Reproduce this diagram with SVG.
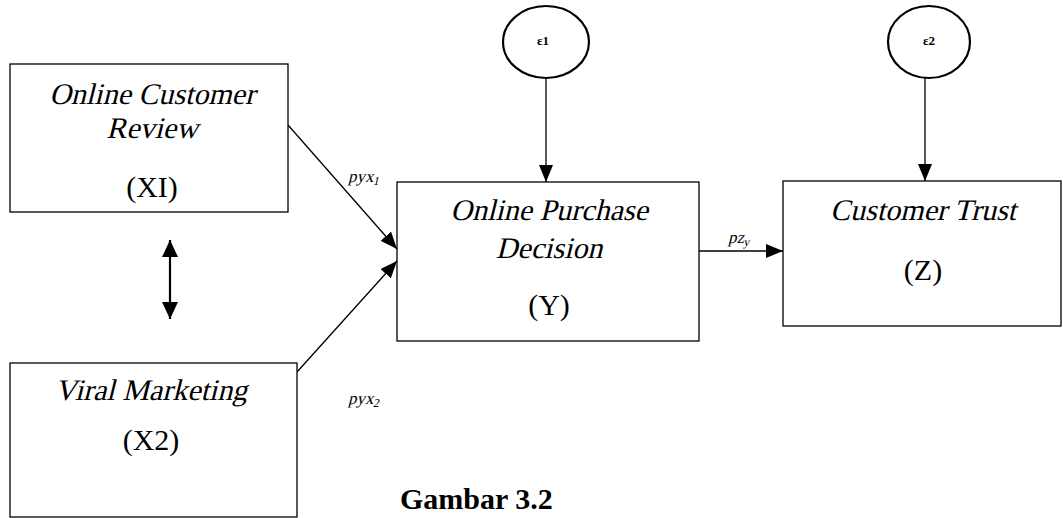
<svg xmlns="http://www.w3.org/2000/svg" width="1063" height="518" viewBox="0 0 1063 518">
<defs>
<style>
.box{fill:#fff;stroke:#000;stroke-width:1.3}
.ell{fill:#fff;stroke:#000;stroke-width:2.2}
.t{font-family:"Liberation Serif","Times New Roman",serif;font-size:30px;fill:#000;text-anchor:middle}
.e{font-family:"Liberation Serif","Times New Roman",serif;font-size:13px;font-weight:bold;fill:#000;text-anchor:middle}
.lbl{font-family:"Liberation Serif","Times New Roman",serif;font-size:17px;fill:#000}
.sub{font-size:12px}
.ln{stroke:#000;stroke-width:1.3;fill:none}
.cap{font-family:"Liberation Serif","Times New Roman",serif;font-size:30px;font-weight:bold;fill:#000}
</style>
<marker id="ah" markerUnits="userSpaceOnUse" markerWidth="18" markerHeight="14" refX="17" refY="7" orient="auto">
<path d="M0,0 L17,7 L0,14 Z" fill="#000"/>
</marker>
<marker id="ah2" markerUnits="userSpaceOnUse" markerWidth="18" markerHeight="16" refX="17" refY="8" orient="auto-start-reverse">
<path d="M0,0 L17,8 L0,16 Z" fill="#000"/>
</marker>
</defs>
<rect width="1063" height="518" fill="#fff"/>
<g id="connectors">
<line class="ln" x1="288" y1="125" x2="397" y2="249" marker-end="url(#ah)"/>
<line class="ln" x1="297" y1="372" x2="397" y2="261" marker-end="url(#ah)"/>
<line class="ln" x1="546" y1="78" x2="546" y2="182" marker-end="url(#ah)"/>
<line class="ln" x1="925" y1="78" x2="925" y2="181" marker-end="url(#ah)"/>
<line class="ln" x1="699" y1="251" x2="783" y2="251" marker-end="url(#ah)"/>
<line x1="170" y1="240" x2="170" y2="319" stroke="#000" stroke-width="2.2" marker-start="url(#ah2)" marker-end="url(#ah2)"/>
<g transform="translate(348,182) skewX(-14)"><text class="lbl">pyx<tspan class="sub" dy="3">1</tspan></text></g>
<g transform="translate(348,404) skewX(-14)"><text class="lbl">pyx<tspan class="sub" dy="3">2</tspan></text></g>
<g transform="translate(728,243) skewX(-14)"><text class="lbl">pz<tspan class="sub" dy="3">y</tspan></text></g>
</g>
<g id="node-xi">
<rect class="box" x="10" y="64" width="278" height="148"/>
<g transform="translate(152,104) skewX(-14)"><text class="t">Online Customer</text></g>
<g transform="translate(152,138) skewX(-14)"><text class="t">Review</text></g>
<text class="t" x="152" y="197">(XI)</text>
</g>
<g id="node-x2">
<rect class="box" x="10" y="363" width="287" height="154"/>
<g transform="translate(151,400) skewX(-14)"><text class="t">Viral Marketing</text></g>
<text class="t" x="151" y="450">(X2)</text>
</g>
<g id="node-y">
<rect class="box" x="397" y="182" width="302" height="159"/>
<g transform="translate(549,220) skewX(-14)"><text class="t">Online Purchase</text></g>
<g transform="translate(549,258) skewX(-14)"><text class="t">Decision</text></g>
<text class="t" x="549" y="315">(Y)</text>
</g>
<g id="node-z">
<rect class="box" x="783" y="181" width="278" height="145"/>
<g transform="translate(923,220) skewX(-14)"><text class="t">Customer Trust</text></g>
<text class="t" x="923" y="280">(Z)</text>
</g>
<g id="node-e1">
<ellipse class="ell" cx="546" cy="42" rx="43" ry="36"/>
<text class="e" x="543" y="45">ε1</text>
</g>
<g id="node-e2">
<ellipse class="ell" cx="929" cy="42" rx="41" ry="36"/>
<text class="e" x="929" y="45">ε2</text>
</g>
<g id="caption">
<text class="cap" x="400" y="509">Gambar 3.2</text>
</g>
</svg>
